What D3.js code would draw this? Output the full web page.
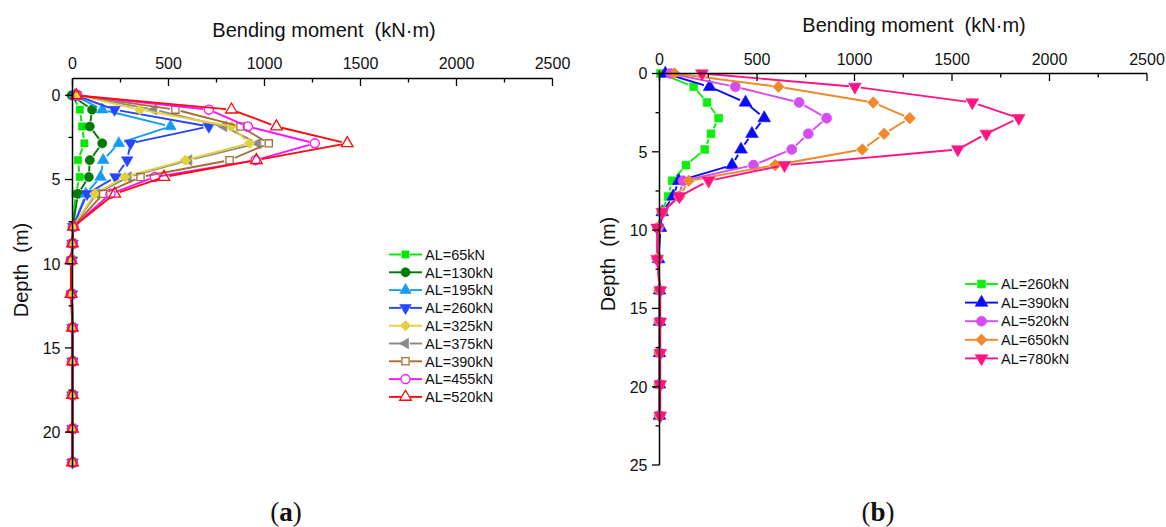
<!DOCTYPE html>
<html>
<head>
<meta charset="utf-8">
<script src="https://cdn.jsdelivr.net/npm/d3@7"></script>
<style>
  html, body { margin: 0; padding: 0; background: #fff; }
  svg text { font-family: "Liberation Sans", Arial, sans-serif; fill: #111; }
</style>
</head>
<body>
<svg id="fig" width="1166" height="527"></svg>
<script>
// ---------- data: panel (a) ----------
const depthA = [0, 0.85, 1.85, 2.85, 3.85, 4.85, 5.85, 7.8, 8.8, 9.8, 11.8, 13.8, 15.8, 17.8, 19.8, 21.8];
const labelsA = ["AL=65kN", "AL=130kN", "AL=195kN", "AL=260kN", "AL=325kN", "AL=375kN", "AL=390kN", "AL=455kN", "AL=520kN"];
const al65  = [0,   38,   50,   62,  28,  38,  16, 2, 0, -3, -3, 0, 0, 0, 0, 0];
const al130 = [-5, 102,   90,  155,  90,  85,  28, 2, 0, -3, -3, 0, 0, 0, 0, 0];
const al195 = [10, 155,  510,  241, 160, 146,  70, 3, 0, -3, -3, 0, 0, 0, 0, 0];
const al260 = [15, 219,  710,  302, 285, 224,  76, 3, 0, -3, -3, 0, 0, 0, 0, 0];
const al325 = [28, 351,  828,  922, 588, 273, 116, 3, 0, -4, -4, 0, 0, 0, 0, 0];
const al375 = [22, 424,  788,  965, 606, 290, 125, 3, 0, -4, -4, 0, 0, 0, 0, 0];
const al390 = [25, 536,  875, 1022, 818, 354, 160, 4, 0, -5, -5, 0, 0, 0, 0, 0];
const al455 = [25, 710,  913, 1262, 953, 429, 198, 4, 0, -8, -8, 0, 0, 0, 0, 0];
const al520 = [20, 828, 1062, 1431, 958, 476, 220, 5, 0, -8, -8, 0, 0, 0, 0, 0];

// ---------- data: panel (b) ----------
const depthB = [0, 0.85, 1.85, 2.85, 3.85, 4.85, 5.85, 6.85, 7.85, 8.85, 9.85, 11.85, 13.85, 15.85, 17.85, 19.85, 21.85];
const labelsB = ["AL=260kN", "AL=390kN", "AL=520kN", "AL=650kN", "AL=780kN"];
const b260 = [5,   175,  244,  303,  264,  232, 136,  65,  44, 10,  -3,  -5, 0, 0, 0, 0, 0];
const b390 = [30,  257,  441,  537,  474,  418, 372,  99,  70, 14,   5,  -5, 0, 0, 0, 0, 0];
const b520 = [56,  389,  716,  857,  763,  678, 482, 120,  99, 14,  -5, -10, 0, 0, 0, 0, 0];
const b650 = [77,  610, 1096, 1283, 1152, 1040, 593, 150, 102, 14, -10, -12, 0, 0, 0, 0, 0];
const b780 = [218, 1002, 1604, 1842, 1676, 1530, 641, 252, 102, 14, -12, -12, 4, 4, 4, 4, 4];

// ---------- axis tick values ----------
const xTicks = [0, 500, 1000, 1500, 2000, 2500];
const yTicksA = [0, 5, 10, 15, 20];
const yTicksB = [0, 5, 10, 15, 20, 25];

// ---------- styles ----------
const tri = d3.symbolTriangle;
const styleA = [
  { c: "#00e800", sym: "square",   fill: true },
  { c: "#007a00", sym: "circle",   fill: true },
  { c: "#149cf5", sym: "triUp",    fill: true },
  { c: "#2745ff", sym: "triDown",  fill: true },
  { c: "#e3d03c", sym: "diamond",  fill: true },
  { c: "#8a8a8a", sym: "triLeft",  fill: true },
  { c: "#a86e30", sym: "square",   fill: false },
  { c: "#ff10ff", sym: "circle",   fill: false },
  { c: "#ff0a0a", sym: "triUp",    fill: false }
];
const styleB = [
  { c: "#10ee10", sym: "square",  fill: true },
  { c: "#0a0aff", sym: "triUp",   fill: true },
  { c: "#d54cf2", sym: "circle",  fill: true },
  { c: "#f0892c", sym: "diamond", fill: true },
  { c: "#ff1482", sym: "triDown", fill: true }
];

const svg = d3.select("#fig");

function symbolPath(sym, big) {
  const k = big ? 1.2 : 1;
  switch (sym) {
    case "square":  return { d: d3.symbol(d3.symbolSquare, 52 * k)(), rot: 0 };
    case "circle":  return { d: d3.symbol(d3.symbolCircle, 66 * k)(), rot: 0 };
    case "triUp":   return { d: d3.symbol(tri, 58 * k)(), rot: 0 };
    case "triDown": return { d: d3.symbol(tri, 58 * k)(), rot: 180 };
    case "triLeft": return { d: d3.symbol(tri, 50 * k)(), rot: -90 };
    case "diamond": return { d: d3.symbol(d3.symbolSquare, 56 * k)(), rot: 45 };
  }
}

function drawMarker(g, x, y, st, big) {
  const p = symbolPath(st.sym, big);
  g.append("path")
    .attr("d", p.d)
    .attr("transform", `translate(${x},${y}) rotate(${p.rot})`)
    .attr("fill", st.fill ? st.c : "none")
    .attr("stroke", st.c)
    .attr("stroke-width", st.fill ? 0.6 : 1.3);
}

// line segments leave a small gap round each symbol
function drawSeries(g, pts, st, gap, big) {
  for (let i = 0; i < pts.length - 1; i++) {
    const [x1, y1] = pts[i], [x2, y2] = pts[i + 1];
    const dx = x2 - x1, dy = y2 - y1, L = Math.hypot(dx, dy);
    if (L <= 2 * gap) continue;
    const ux = dx / L, uy = dy / L;
    g.append("line")
      .attr("x1", x1 + ux * gap).attr("y1", y1 + uy * gap)
      .attr("x2", x2 - ux * gap).attr("y2", y2 - uy * gap)
      .attr("stroke", st.c).attr("stroke-width", 1.9);
  }
  pts.forEach(([x, y]) => drawMarker(g, x, y, st, big));
}

function drawLegend(g, labels, styles, x0, y0, dy, big) {
  labels.forEach((lab, i) => {
    const y = y0 + i * dy, st = styles[i];
    g.append("line").attr("x1", x0).attr("x2", x0 + 12).attr("y1", y).attr("y2", y)
      .attr("stroke", st.c).attr("stroke-width", 1.9);
    g.append("line").attr("x1", x0 + 21).attr("x2", x0 + 33).attr("y1", y).attr("y2", y)
      .attr("stroke", st.c).attr("stroke-width", 1.9);
    drawMarker(g, x0 + 16.5, y, st, big);
    g.append("text").attr("x", x0 + 36).attr("y", y + 5.2)
      .attr("font-size", "14.5px").text(lab);
  });
}

function drawAxes(g, x, y, yTicks, yMinor, xAxisY, yTop, yBottom) {
  const ax = g.append("g");
  // top x axis
  ax.append("line").attr("x1", x(0)).attr("x2", x(2500)).attr("y1", xAxisY).attr("y2", xAxisY)
    .attr("stroke", "#000").attr("stroke-width", 1.5);
  d3.range(0, 2501, 250).forEach(v => {
    const major = v % 500 === 0;
    ax.append("line").attr("x1", x(v)).attr("x2", x(v)).attr("y1", xAxisY).attr("y2", xAxisY + (major ? 7.5 : 4))
      .attr("stroke", "#000").attr("stroke-width", 1.3);
  });
  // left y axis
  ax.append("line").attr("x1", x(0)).attr("x2", x(0)).attr("y1", yTop).attr("y2", yBottom)
    .attr("stroke", "#000").attr("stroke-width", 1.5);
  yTicks.forEach(v => {
    ax.append("line").attr("x1", x(0) - 7.5).attr("x2", x(0)).attr("y1", y(v)).attr("y2", y(v))
      .attr("stroke", "#000").attr("stroke-width", 1.3);
  });
  yMinor.forEach(v => {
    ax.append("line").attr("x1", x(0) - 4).attr("x2", x(0)).attr("y1", y(v)).attr("y2", y(v))
      .attr("stroke", "#000").attr("stroke-width", 1.3);
  });
}

function tickLabels(g, x, y, yTicks, xLabelY) {
  xTicks.forEach(v => {
    g.append("text").attr("x", x(v)).attr("y", xLabelY).attr("text-anchor", "middle")
      .attr("font-size", "16px").text(v);
  });
  yTicks.forEach(v => {
    g.append("text").attr("x", x(0) - 12).attr("y", y(v) + 5.8).attr("text-anchor", "end")
      .attr("font-size", "16px").text(v);
  });
}

// ---------- panel (a) ----------
{
  const x = d3.scaleLinear().domain([0, 2500]).range([72.5, 552.5]);
  const y = d3.scaleLinear().domain([-1, 22.1]).range([78.5, 467.5]);
  const g = svg.append("g");
  const seriesA = [al65, al130, al195, al260, al325, al375, al390, al455, al520];
  const order = [0, 1, 2, 3, 5, 4, 6, 7, 8];
  order.forEach(i => {
    const pts = seriesA[i].map((v, j) => [x(v), y(depthA[j])]);
    drawSeries(g, pts, styleA[i], 5.5, false);
  });
  drawAxes(g, x, y, yTicksA, [2.5, 7.5, 12.5, 17.5], y(-1), y(-1), y(22.1));
  tickLabels(g, x, y, yTicksA, 69);
  g.append("text").attr("x", 324).attr("y", 37).attr("text-anchor", "middle")
    .attr("font-size", "20px").attr("xml:space", "preserve").text("Bending moment  (kN\u00b7m)");
  g.append("text").attr("transform", "translate(28,270) rotate(-90)").attr("text-anchor", "middle")
    .attr("font-size", "20px").attr("xml:space", "preserve").text("Depth  (m)");
  drawLegend(g, labelsA, styleA, 389, 254.5, 17.8, false);
  const t = g.append("text").attr("x", 286).attr("y", 521).attr("text-anchor", "middle")
    .attr("font-size", "27px").style("font-family", "'Liberation Serif', 'DejaVu Serif', serif");
  t.append("tspan").text("(");
  t.append("tspan").attr("font-weight", "bold").text("a");
  t.append("tspan").text(")");
}

// ---------- panel (b) ----------
{
  const x = d3.scaleLinear().domain([0, 2500]).range([659.5, 1147]);
  const y = d3.scaleLinear().domain([0, 25]).range([73.5, 465]);
  const g = svg.append("g");
  const seriesB = [b260, b390, b520, b650, b780];
  seriesB.forEach((s, i) => {
    const pts = s.map((v, j) => [x(v), y(depthB[j])]);
    drawSeries(g, pts, styleB[i], 6, true);
  });
  drawAxes(g, x, y, yTicksB, [2.5, 7.5, 12.5, 17.5, 22.5], y(0), y(0) - 3, y(25));
  tickLabels(g, x, y, yTicksB, 65);
  g.append("text").attr("x", 914).attr("y", 32).attr("text-anchor", "middle")
    .attr("font-size", "20px").attr("xml:space", "preserve").text("Bending moment  (kN\u00b7m)");
  g.append("text").attr("transform", "translate(615,264) rotate(-90)").attr("text-anchor", "middle")
    .attr("font-size", "20px").attr("xml:space", "preserve").text("Depth  (m)");
  drawLegend(g, labelsB, styleB, 965, 284, 18.6, true);
  const t = g.append("text").attr("x", 878).attr("y", 521).attr("text-anchor", "middle")
    .attr("font-size", "27px").style("font-family", "'Liberation Serif', 'DejaVu Serif', serif");
  t.append("tspan").text("(");
  t.append("tspan").attr("font-weight", "bold").text("b");
  t.append("tspan").text(")");
}
</script>
</body>
</html>
